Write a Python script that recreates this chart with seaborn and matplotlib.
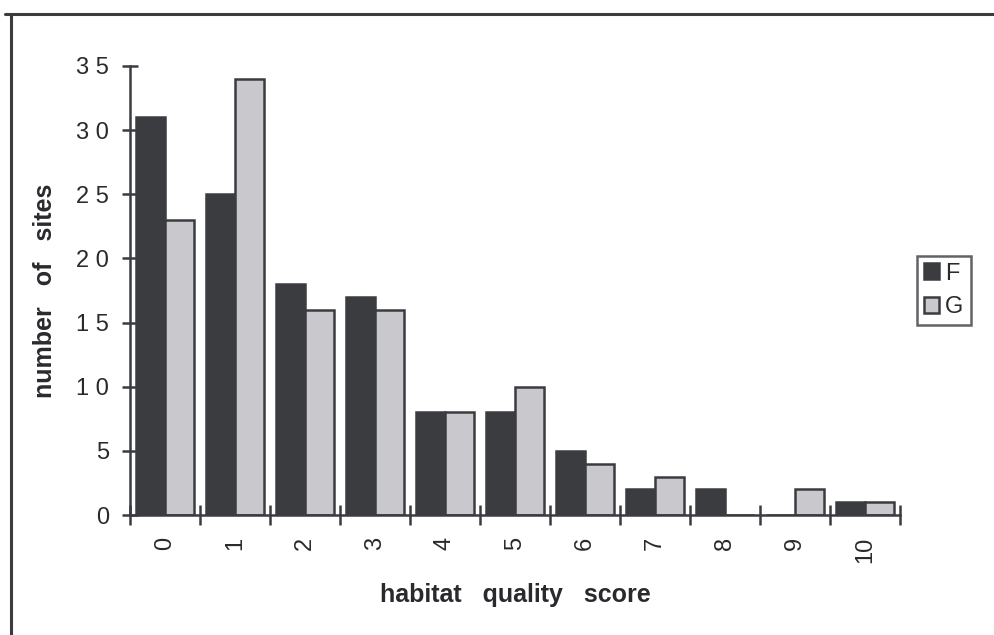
import matplotlib
matplotlib.use("Agg")
import matplotlib.pyplot as plt
from matplotlib.lines import Line2D
import seaborn as sns
import pandas as pd

# habitat quality scores and number of sites per score
scores = ["0", "1", "2", "3", "4", "5", "6", "7", "8", "9", "10"]
sites_f = [31, 25, 18, 17, 8, 8, 5, 2, 2, 0, 1]
sites_g = [23, 34, 16, 16, 8, 10, 4, 3, 0, 2, 1]
groups = ["F", "G"]
y_ticks = [0, 5, 10, 15, 20, 25, 30, 35]
y_tick_labels = ["0", "5", "1 0", "1 5", "2 0", "2 5", "3 0", "3 5"]

dark = "#3b3c40"
light = "#c9c9cd"
ink = "#2a2a2e"

df = pd.DataFrame({
    "score": scores * 2,
    "sites": sites_f + sites_g,
    "group": [groups[0]] * len(scores) + [groups[1]] * len(scores),
})

sns.set_theme(style="white")
plt.rcParams["font.family"] = ["Liberation Sans", "DejaVu Sans"]

fig = plt.figure(figsize=(9.94, 6.35), dpi=100)
ax = fig.add_axes([130 / 994, 1 - 515 / 635, 770 / 994, 449 / 635])

sns.barplot(
    data=df, x="score", y="sites", hue="group", order=scores, hue_order=groups,
    palette=[dark, light], width=0.83, gap=0, edgecolor=dark, linewidth=1.8,
    saturation=1, ax=ax, legend=True,
)

ax.set_xlim(-0.5, len(scores) - 0.5)
ax.set_ylim(0, 35)

for side in ("top", "right"):
    ax.spines[side].set_visible(False)
for side in ("left", "bottom"):
    ax.spines[side].set_color(dark)
    ax.spines[side].set_linewidth(1.8)

ax.set_yticks(y_ticks)
ax.set_yticklabels(y_tick_labels, fontsize=17, color=ink)
ax.tick_params(axis="y", direction="inout", length=12, width=1.8, color=dark, pad=9, left=True)

# category labels at group centres, tick marks at group boundaries
ax.set_xticks(range(len(scores)))
ax.set_xticklabels(scores, rotation=90, fontsize=17, color=ink)
ax.tick_params(axis="x", which="major", length=0, pad=16)
ax.set_xticks([i - 0.5 for i in range(len(scores) + 1)], minor=True)
ax.tick_params(axis="x", which="minor", direction="inout", length=14, width=1.8, color=dark, bottom=True)

ax.set_xlabel("habitat   quality   score", fontsize=18, fontweight="bold", color=ink, labelpad=14)
ax.set_ylabel("number   of   sites", fontsize=18, fontweight="bold", color=ink, labelpad=14)

leg = ax.legend(
    title=None, loc="center left", bbox_to_anchor=(1.022, 0.50), frameon=True,
    fancybox=False, fontsize=17, handlelength=0.65, handleheight=0.65,
    handletextpad=0.25, borderpad=0.3, labelspacing=0.5, borderaxespad=0,
)
leg.get_frame().set_edgecolor(dark)
leg.get_frame().set_linewidth(1.8)
for t in leg.get_texts():
    t.set_color(ink)

# page frame lines along the top and left edges
fig.add_artist(Line2D([5 / 994, 1], [1 - 14 / 635] * 2, transform=fig.transFigure, color=dark, lw=2.2))
fig.add_artist(Line2D([11 / 994] * 2, [0, 1 - 14 / 635], transform=fig.transFigure, color=dark, lw=2.2))

fig.savefig("out.png", dpi=100, facecolor="white")
